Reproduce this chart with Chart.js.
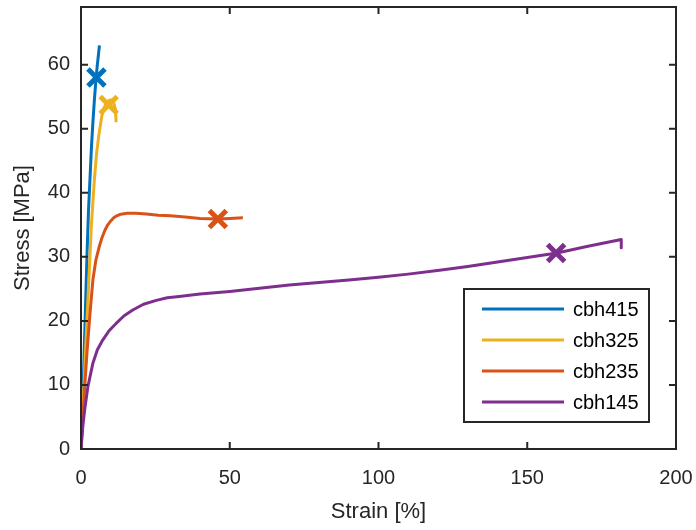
<!DOCTYPE html>
<html>
<head>
<meta charset="utf-8">
<title>Stress-strain curves</title>
<script src="https://cdn.jsdelivr.net/npm/chart.js@4.4.1/dist/chart.umd.min.js"></script>
<style>
  html, body { margin: 0; padding: 0; background: #ffffff; }
  #chartBox { width: 696px; height: 530px; }
</style>
</head>
<body>
<div id="chartBox"><canvas id="stressChart" width="696" height="530"></canvas></div>
<script>
// Series names and colours (MATLAB default order)
const seriesNames = ['cbh415', 'cbh325', 'cbh235', 'cbh145'];
const seriesColors = ['#0072BD', '#EDB120', '#D95319', '#7E2F8E'];

// Strain [%] / Stress [MPa]
const strain415 = [0, 0.5, 1, 1.5, 2, 2.5, 3, 3.5, 4, 4.5, 5, 5.5, 6.2];
const stress415 = [0, 6, 14, 22, 30, 37, 42, 47, 51, 54.5, 57.5, 60, 63];

const strain325 = [0, 0.5, 1, 2, 3, 3.5, 4.5, 5.2, 6, 7, 8, 9, 10, 11, 11.6, 11.8];
const stress325 = [0, 5, 10, 20, 30, 35, 42, 46, 49, 52, 53.5, 54.3, 54.5, 54, 53, 51];

const strain235 = [0, 0.5, 1, 2, 3, 4, 5, 6.2, 7, 8, 9, 10, 11, 12, 13, 14, 15.5, 18.5, 22, 26, 30, 35, 40, 46, 50, 54.4];
const stress235 = [0, 4, 8, 15, 21, 26.4, 29.5, 31.7, 32.9, 34.1, 35, 35.6, 36.1, 36.4, 36.6, 36.7, 36.8, 36.8, 36.7, 36.5, 36.4, 36.2, 36, 35.9, 36, 36.1];

const strain145 = [0, 0.6, 1.2, 2.3, 4, 5.5, 7.3, 9.5, 11.8, 14.5, 17.4, 21, 25.3, 29, 33, 40, 50, 60, 70, 80, 90, 100, 110, 120.5, 130, 140, 150, 160, 170, 181.6, 181.6];
const stress145 = [0, 3.5, 6, 9.7, 13.4, 15.5, 17, 18.5, 19.6, 20.8, 21.7, 22.6, 23.2, 23.6, 23.8, 24.2, 24.6, 25.1, 25.6, 26, 26.4, 26.8, 27.3, 27.9, 28.5, 29.2, 29.9, 30.6, 31.6, 32.7, 31.4];

// Failure markers (x)
const markStrain = [5.2, 9.3, 46, 159.7];
const markStress = [58, 53.7, 35.9, 30.6];

// Axis ticks
const xTicks = [0, 50, 100, 150, 200];
const yTicks = [0, 10, 20, 30, 40, 50, 60];

const axisColor = '#262626';
const fontFamily = '"Liberation Sans", Arial, Helvetica, sans-serif';

function toPoints(xs, ys) {
  return xs.map((x, i) => ({ x: x, y: ys[i] }));
}

const curves = [
  toPoints(strain415, stress415),
  toPoints(strain325, stress325),
  toPoints(strain235, stress235),
  toPoints(strain145, stress145)
];

const lineDatasets = curves.map((pts, i) => ({
  label: seriesNames[i],
  data: pts,
  showLine: true,
  borderColor: seriesColors[i],
  backgroundColor: seriesColors[i],
  borderWidth: 3,
  borderJoinStyle: 'round',
  pointRadius: 0,
  tension: 0,
  order: 10 - i
}));

const markerDataset = {
  label: 'failure',
  data: toPoints(markStrain, markStress),
  showLine: false,
  pointStyle: 'crossRot',
  pointRadius: 12,
  pointBorderWidth: 5,
  borderColor: seriesColors,
  backgroundColor: seriesColors,
  order: 0
};

/**
 * Draws MATLAB-like box with inward ticks and a boxed legend
 */
const matlabAxes = {
  id: 'matlabAxes',
  afterDraw(chart) {
    const ctx = chart.ctx;
    const area = chart.chartArea;
    const xs = chart.scales.x;
    const ys = chart.scales.y;
    const tickLen = 7;

    ctx.save();
    ctx.strokeStyle = axisColor;
    ctx.lineWidth = 2;
    ctx.strokeRect(area.left, area.top, area.right - area.left, area.bottom - area.top);

    ctx.beginPath();
    xTicks.forEach(v => {
      const px = xs.getPixelForValue(v);
      ctx.moveTo(px, area.bottom);
      ctx.lineTo(px, area.bottom - tickLen);
      ctx.moveTo(px, area.top);
      ctx.lineTo(px, area.top + tickLen);
    });
    yTicks.forEach(v => {
      const py = ys.getPixelForValue(v);
      ctx.moveTo(area.left, py);
      ctx.lineTo(area.left + tickLen, py);
      ctx.moveTo(area.right, py);
      ctx.lineTo(area.right - tickLen, py);
    });
    ctx.stroke();

    // Legend box in the lower right
    const box = { left: 464, top: 289, width: 185, height: 133 };
    ctx.fillStyle = '#ffffff';
    ctx.fillRect(box.left, box.top, box.width, box.height);
    ctx.strokeStyle = axisColor;
    ctx.lineWidth = 2;
    ctx.strokeRect(box.left, box.top, box.width, box.height);

    ctx.font = '20px ' + fontFamily;
    ctx.textBaseline = 'middle';
    ctx.textAlign = 'left';
    seriesNames.forEach((name, i) => {
      const rowY = box.top + 20 + i * 31;
      ctx.strokeStyle = seriesColors[i];
      ctx.lineWidth = 3;
      ctx.beginPath();
      ctx.moveTo(box.left + 18, rowY);
      ctx.lineTo(box.left + 100, rowY);
      ctx.stroke();
      ctx.fillStyle = '#000000';
      ctx.fillText(name, box.left + 109, rowY + 1);
    });
    ctx.restore();
  }
};

new Chart(document.getElementById('stressChart'), {
  type: 'scatter',
  data: {
    datasets: [markerDataset].concat(lineDatasets)
  },
  options: {
    responsive: false,
    animation: false,
    layout: {
      autoPadding: false,
      padding: { left: 0, top: 7, right: 20, bottom: 0 }
    },
    plugins: {
      legend: { display: false },
      tooltip: { enabled: false }
    },
    scales: {
      x: {
        type: 'linear',
        min: 0,
        max: 200,
        grid: { display: false },
        border: { display: false },
        afterBuildTicks: scale => { scale.ticks = xTicks.map(v => ({ value: v })); },
        afterFit: scale => {
          scale.height = 81;
          scale.paddingLeft = 0;
          scale.paddingRight = 0;
        },
        ticks: {
          padding: 9,
          color: axisColor,
          font: { family: fontFamily, size: 20 }
        },
        title: {
          display: true,
          text: 'Strain [%]',
          color: axisColor,
          font: { family: fontFamily, size: 22 },
          padding: { top: 0, bottom: 5 }
        }
      },
      y: {
        type: 'linear',
        min: 0,
        max: 69,
        grid: { display: false },
        border: { display: false },
        afterBuildTicks: scale => { scale.ticks = yTicks.map(v => ({ value: v })); },
        afterFit: scale => {
          scale.width = 81;
          scale.paddingTop = 0;
          scale.paddingBottom = 0;
        },
        ticks: {
          padding: 3,
          color: axisColor,
          font: { family: fontFamily, size: 20 }
        },
        title: {
          display: true,
          text: 'Stress [MPa]',
          color: axisColor,
          font: { family: fontFamily, size: 22 },
          padding: { top: 10, bottom: 0 }
        }
      }
    }
  },
  plugins: [matlabAxes]
});
</script>
</body>
</html>
